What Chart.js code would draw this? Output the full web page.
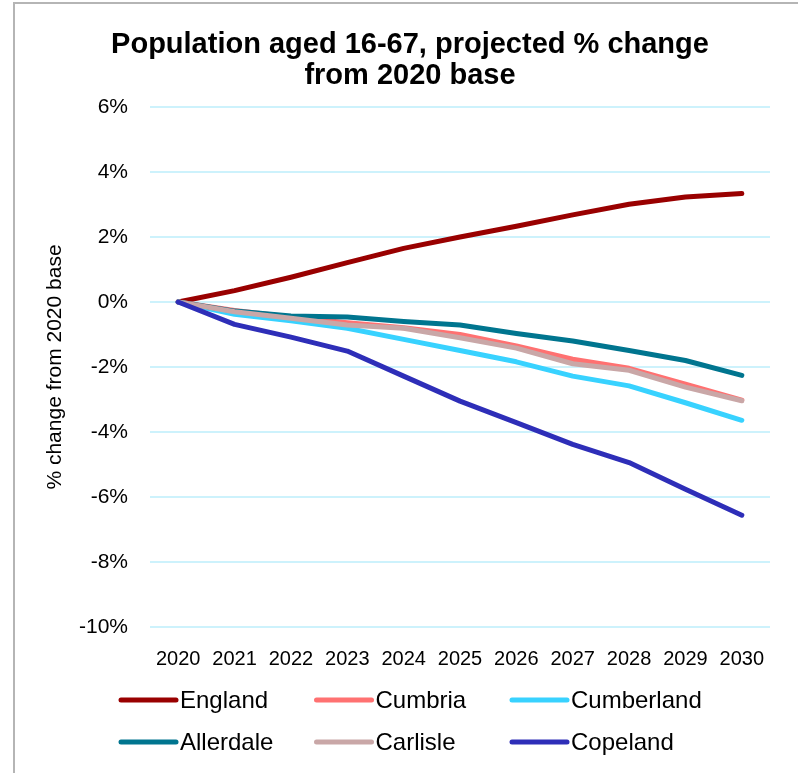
<!DOCTYPE html>
<html>
<head>
<meta charset="utf-8">
<script src="https://cdn.jsdelivr.net/npm/chart.js@4/dist/chart.umd.min.js"></script>
<style>
  html, body { margin: 0; padding: 0; background: #fff; }
  #wrap { width: 798px; height: 773px; position: relative; }
</style>
</head>
<body>
<div id="wrap"><canvas id="popChart"></canvas></div>
<script>
// 16-67 population, % change from the 2020 base year
var years = ['2020', '2021', '2022', '2023', '2024', '2025', '2026', '2027', '2028', '2029', '2030'];
var england    = [0, 0.35, 0.76, 1.21, 1.65, 2.00, 2.33, 2.68, 3.01, 3.23, 3.34];
var cumbria    = [0, -0.26, -0.46, -0.64, -0.79, -1.00, -1.35, -1.76, -2.04, -2.53, -3.02];
var cumberland = [0, -0.38, -0.58, -0.81, -1.15, -1.49, -1.84, -2.28, -2.58, -3.10, -3.64];
var allerdale  = [0, -0.28, -0.43, -0.46, -0.60, -0.71, -0.97, -1.20, -1.49, -1.80, -2.26];
var carlisle   = [0, -0.30, -0.50, -0.71, -0.81, -1.10, -1.42, -1.90, -2.10, -2.62, -3.04];
var copeland   = [0, -0.69, -1.08, -1.51, -2.28, -3.05, -3.71, -4.38, -4.94, -5.76, -6.56];

var seriesNames  = ['England', 'Cumbria', 'Cumberland', 'Allerdale', 'Carlisle', 'Copeland'];
var seriesData   = [england, cumbria, cumberland, allerdale, carlisle, copeland];
var seriesColors = ['#990000', '#ff7171', '#38d2ff', '#00758f', '#c9a7a7', '#2e2eb8'];

var titleLines = ['Population aged 16-67, projected % change', 'from 2020 base'];

var FONT = '"Liberation Sans", Arial, sans-serif';

// grey frame on the top and left edges
var framePlugin = {
  id: 'frame',
  beforeDraw: function(chart) {
    var ctx = chart.ctx;
    ctx.save();
    ctx.strokeStyle = '#b5b5b5';
    ctx.lineWidth = 2;
    ctx.beginPath();
    ctx.moveTo(14, chart.height);
    ctx.lineTo(14, 3);
    ctx.lineTo(chart.width, 3);
    ctx.stroke();
    ctx.restore();
  }
};

// two-line bold heading, centred on the whole frame rather than the plot
var headingPlugin = {
  id: 'heading',
  afterDraw: function(chart) {
    var ctx = chart.ctx;
    ctx.save();
    ctx.font = 'bold 29px ' + FONT;
    ctx.fillStyle = '#000';
    ctx.textAlign = 'center';
    ctx.textBaseline = 'middle';
    titleLines.forEach(function(line, i) {
      ctx.fillText(line, 410, 45 + i * 31);
    });
    ctx.restore();
  }
};

// legend laid out in a fixed 3 x 2 grid under the x axis
var legendGrid = {
  id: 'legendGrid',
  afterDraw: function(chart) {
    var ctx = chart.ctx;
    ctx.save();
    ctx.font = '24px ' + FONT;
    ctx.textBaseline = 'middle';
    ctx.lineCap = 'round';
    chart.data.datasets.forEach(function(ds, i) {
      var x = 121 + (i % 3) * 195.5;
      var y = 700 + Math.floor(i / 3) * 42;
      ctx.strokeStyle = ds.borderColor;
      ctx.lineWidth = 5;
      ctx.beginPath();
      ctx.moveTo(x, y);
      ctx.lineTo(x + 55, y);
      ctx.stroke();
      ctx.fillStyle = '#000';
      ctx.fillText(ds.label, x + 59, y + 1);
    });
    ctx.restore();
  }
};

var datasets = seriesNames.map(function(name, i) {
  return {
    label: name,
    data: seriesData[i],
    borderColor: seriesColors[i],
    backgroundColor: seriesColors[i],
    borderWidth: 5,
    borderCapStyle: 'round',
    borderJoinStyle: 'round',
    pointRadius: 0,
    tension: 0,
    order: seriesNames.length - i   // later series on top
  };
});

new Chart(document.getElementById('popChart'), {
  type: 'line',
  data: { labels: years, datasets: datasets },
  plugins: [framePlugin, headingPlugin, legendGrid],
  options: {
    responsive: true,
    maintainAspectRatio: false,
    animation: false,
    layout: { padding: { top: 107, left: 14, right: 28, bottom: 106 } },
    plugins: {
      legend: { display: false },
      tooltip: { enabled: false },
      title: { display: false }
    },
    scales: {
      x: {
        offset: true,
        grid: { display: false },
        border: { display: false },
        ticks: { color: '#000', font: { family: FONT, size: 20 }, padding: 12, maxRotation: 0 },
        afterFit: function(scale) { scale.height = 40; }
      },
      y: {
        min: -10,
        max: 6,
        grid: { color: '#cdf2fc', lineWidth: 2, drawTicks: false },
        border: { display: false },
        ticks: {
          stepSize: 2,
          color: '#000',
          padding: 22,
          font: { family: FONT, size: 21 },
          callback: function(v) { return v + '%'; }
        },
        title: {
          display: true,
          text: '% change from 2020 base',
          color: '#000',
          font: { family: FONT, size: 21 },
          padding: { top: 29, bottom: 0 }
        },
        afterFit: function(scale) { scale.width = 136; }
      }
    }
  }
});
</script>
</body>
</html>
